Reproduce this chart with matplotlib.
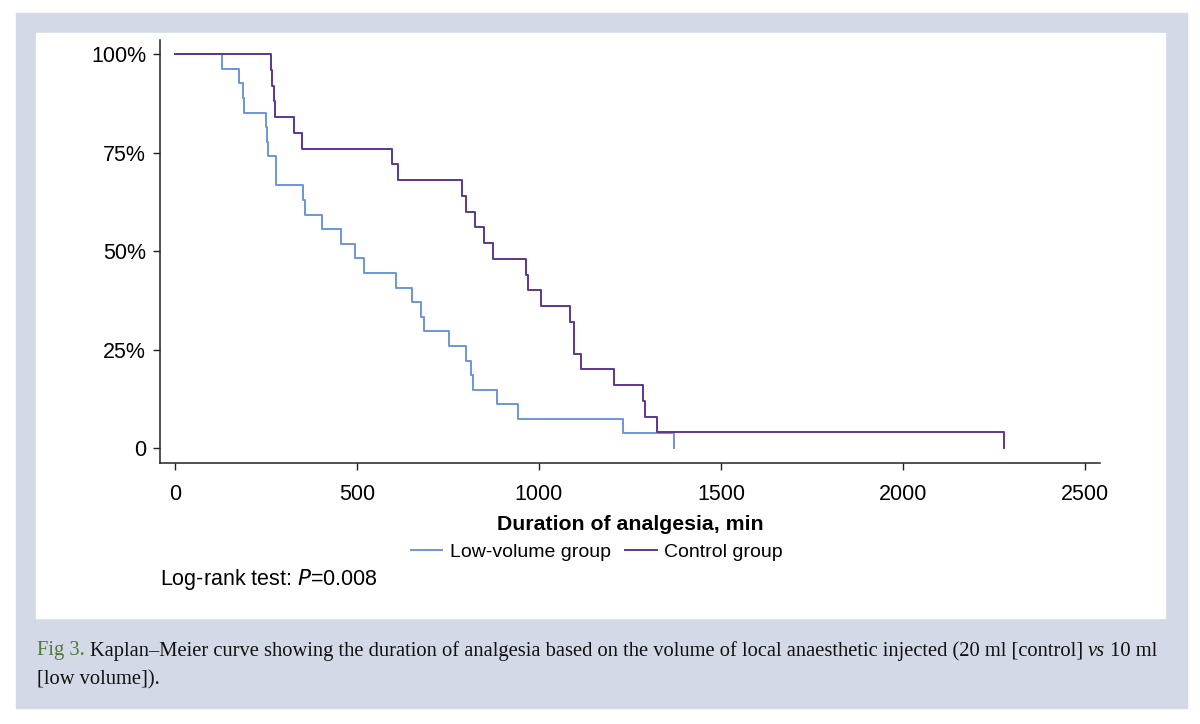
import numpy as np
import matplotlib
matplotlib.use('Agg')
import matplotlib.pyplot as plt
from matplotlib.patches import Rectangle

# event times (min), with number of events at each time
low_times = [130, 177, 186, 190, 249, 254, 257, 277, 353, 357, 405, 455, 494,
             519, 606, 652, 677, 684, 754, 800, 812, 818, 884, 941, 1231, 1371]
low_events = [1, 1, 1, 1, 1, 1, 1, 2, 1, 1, 1, 1, 1,
              1, 1, 1, 1, 1, 1, 1, 1, 1, 1, 1, 1, 1]
low_n = 27

ctrl_times = [264, 268, 272, 276, 328, 350, 597, 612, 788, 799, 825, 850, 874,
              964, 969, 1005, 1084, 1097, 1115, 1205, 1285, 1291, 1323, 2277]
ctrl_events = [1, 1, 1, 1, 1, 1, 1, 1, 1, 1, 1, 1, 1,
               1, 1, 1, 1, 2, 1, 1, 1, 1, 1, 1]
ctrl_n = 25

x_ticks = [0, 500, 1000, 1500, 2000, 2500]
y_ticks = [0, 25, 50, 75, 100]
y_labels = ['0', '25%', '50%', '75%', '100%']

blue = '#6a96d8'
purple = '#5e3590'


def km_curve(times, events, n):
    t = np.concatenate([[0], times])
    surv = 100.0 * (1 - np.concatenate([[0], np.cumsum(events)]) / n)
    return t, surv


plt.rcParams['font.family'] = ['Liberation Sans', 'DejaVu Sans']

fig = plt.figure(figsize=(12, 7.24), dpi=100)
fig.patch.set_facecolor('white')

# grey frame and white panel, in pixel coords
W, H = 1200, 724
def px_rect(x0, y0, x1, y1, color):
    fig.patches.append(Rectangle((x0 / W, 1 - y1 / H), (x1 - x0) / W, (y1 - y0) / H,
                                 transform=fig.transFigure, color=color, zorder=-2))
px_rect(16, 13, 1187, 708, '#d3d9e6')
px_rect(36, 33, 1165, 618, 'white')

ax = fig.add_axes([160 / W, 1 - 463 / H, 940 / W, 423 / H])
ax.set_facecolor('white')

t, s = km_curve(low_times, low_events, low_n)
ax.step(t, s, where='post', color=blue, lw=1.4, label='Low-volume group')
t, s = km_curve(ctrl_times, ctrl_events, ctrl_n)
ax.step(t, s, where='post', color=purple, lw=1.4, label='Control group')

ax.set_xlim(-41, 2541)
ax.set_ylim(-3.8, 103.6)
ax.set_xticks(x_ticks)
ax.set_yticks(y_ticks)
ax.set_yticklabels(y_labels)
for side in ['top', 'right']:
    ax.spines[side].set_visible(False)
for side in ['left', 'bottom']:
    ax.spines[side].set_color('#222222')
    ax.spines[side].set_linewidth(1.1)
ax.tick_params(axis='both', length=5, width=1.0, color='#222222', labelsize=15.5)
ax.tick_params(axis='y', pad=5)
ax.tick_params(axis='x', pad=10)

ax.set_xlabel('Duration of analgesia, min', fontsize=15.3, fontweight='bold', labelpad=7)

fig.legend(*ax.get_legend_handles_labels(), loc='center', bbox_to_anchor=(597 / W, 1 - 552 / H),
           ncol=2, frameon=False, fontsize=14, handlelength=1.6, handletextpad=0.4,
           columnspacing=0.75)

fig.text(160 / W, 1 - 580 / H, 'Log-rank test: $\\it{P}$=0.008', fontsize=15.5,
         va='center', ha='left')

# caption below the panel, laid out piece by piece
cap_font = ['Liberation Serif', 'DejaVu Serif']
renderer = fig.canvas.get_renderer()
pieces = [('Fig 3. ', '#4d7a36', 'normal'),
          ('Kaplan\u2013Meier curve showing the duration of analgesia based on the volume of '
           'local anaesthetic injected (20 ml [control] ', '#111111', 'normal'),
          ('vs', '#111111', 'italic'),
          (' 10 ml', '#111111', 'normal')]
x = 37
for txt, col, sty in pieces:
    tx = fig.text(x / W, 1 - 651 / H, txt, color=col, fontsize=14.8, family=cap_font,
                  style=sty, va='center', ha='left')
    x += tx.get_window_extent(renderer).width
fig.text(37 / W, 1 - 680 / H, '[low volume]).', color='#111111', fontsize=14.8,
         family=cap_font, va='center', ha='left')

fig.savefig('out.png', dpi=100)
